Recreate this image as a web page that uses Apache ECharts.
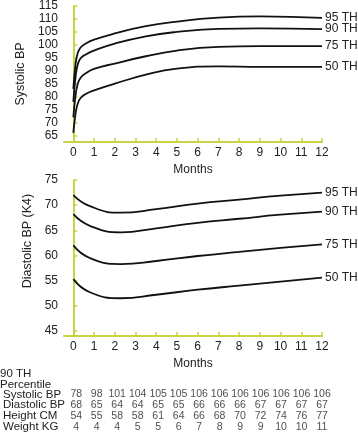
<!DOCTYPE html>
<html><head><meta charset="utf-8">
<script src="https://cdn.jsdelivr.net/npm/echarts@6/dist/echarts.min.js"></script>
<style>html,body{margin:0;padding:0;background:#fff}#c{width:358px;height:433px}</style>
</head><body><div id="c"></div>
<script>
var FONT = '"Liberation Sans", Arial, sans-serif';
var AXIS = '#c9d343';
var TXT = '#222';

var monthTicks = [0,1,2,3,4,5,6,7,8,9,10,11,12];

// Systolic curves
var sysMonths = [0, 0.1, 0.2, 0.35, 0.6, 1, 2, 3.5, 5, 7, 9, 12];
var sys95 = [83, 92, 96.5, 99, 100.5, 102, 104.4, 107.2, 109, 110.5, 111, 110.4];
var sys90 = [78, 87, 92, 94.8, 96.3, 97.8, 100.5, 103.3, 105, 106.2, 106.4, 106.1];
var sys75 = [72, 80, 84.5, 87.3, 89, 90.7, 92.8, 95.6, 97.8, 99.2, 99.5, 99.5];
var sys50 = [66, 73, 77, 79.5, 81, 82.4, 85, 88.5, 90.8, 91.7, 91.5, 91.5];
var sysTicks = [65,70,75,80,85,90,95,100,105,110,115];

// Diastolic curves
var diaMonths = [0, 0.8, 2.3, 4, 6, 8, 10, 12];
var dia95 = [72, 69.8, 68.5, 69.2, 70.3, 71.1, 71.9, 72.5];
var dia90 = [68.2, 65.9, 64.6, 65.4, 66.5, 67.3, 68.1, 68.7];
var dia75 = [62, 59.5, 58.3, 58.9, 59.9, 60.7, 61.5, 62.2];
var dia50 = [55.3, 52.7, 51.5, 52.2, 53.2, 54, 54.8, 55.6];
var diaTicks = [45,50,55,60,65,70,75];

var seriesNames = ['95 TH', '90 TH', '75 TH', '50 TH'];

// Table (90th percentile)
var tableRows = ['Systolic BP', 'Diastolic BP', 'Height CM', 'Weight KG'];
var tblSystolic = [78, 98, 101, 104, 105, 105, 106, 106, 106, 106, 106, 106, 106];
var tblDiastolic = [68, 65, 64, 64, 65, 65, 66, 66, 66, 67, 67, 67, 67];
var tblHeight = [54, 55, 58, 58, 61, 64, 66, 68, 70, 72, 74, 76, 77];
var tblWeight = [4, 4, 4, 5, 5, 6, 7, 8, 9, 9, 10, 10, 11];

function pairs(xs, ys){ return xs.map(function(x,i){ return [x, ys[i]]; }); }

function lineSeries(name, xs, ys, idx){
  return {
    type: 'line', name: name, xAxisIndex: idx, yAxisIndex: idx,
    data: pairs(xs, ys), showSymbol: false, smooth: 0.5,
    lineStyle: { color: '#111', width: 1.8 },
    endLabel: { show: true, formatter: name, color: TXT, fontSize: 12, fontFamily: FONT, distance: 3 },
    silent: true, animation: false
  };
}

function xAxisDef(idx){
  return {
    gridIndex: idx, type: 'value', min: -0.45, max: 12,
    name: 'Months', nameLocation: 'middle', nameGap: 22,
    nameTextStyle: { color: TXT, fontSize: 12, fontFamily: FONT },
    axisLine: { show: true, lineStyle: { color: AXIS, width: 2 } },
    axisTick: { show: true, inside: true, length: 4, customValues: monthTicks, lineStyle: { color: AXIS, width: 1.5 } },
    axisLabel: { show: true, customValues: monthTicks, color: TXT, fontSize: 12, fontFamily: FONT, margin: 5 },
    splitLine: { show: false }
  };
}

var tableSeries = [];
var tblData = [tblSystolic, tblDiastolic, tblHeight, tblWeight];
tblData.forEach(function(row, r){
  tableSeries.push({
    type: 'scatter', xAxisIndex: 2, yAxisIndex: 2, symbolSize: 1,
    itemStyle: { color: 'transparent' },
    data: row.map(function(v, i){ return [monthTicks[i], tableRows[r], v]; }),
    label: { show: true, position: 'inside', formatter: function(p){ return String(p.value[2]); },
             color: TXT, fontSize: 10.5, fontFamily: FONT },
    silent: true, animation: false
  });
});

var chart = echarts.init(document.getElementById('c'), null, { renderer: 'canvas' });
chart.setOption({
  backgroundColor: '#fff',
  animation: false,
  textStyle: { fontFamily: FONT },
  title: {
    text: '90 TH\nPercentile', left: 0, top: 368, padding: 0,
    textStyle: { color: TXT, fontSize: 11.5, fontWeight: 'normal', fontFamily: FONT, lineHeight: 11.5 }
  },
  grid: [
    { left: 64, right: 36, top: 6, height: 136 },
    { left: 64, right: 36, top: 180, height: 156 },
    { left: 64, right: 36, top: 389, height: 44 }
  ],
  xAxis: [
    xAxisDef(0),
    xAxisDef(1),
    { gridIndex: 2, type: 'value', min: -0.45, max: 12, show: false }
  ],
  yAxis: [
    {
      gridIndex: 0, type: 'value', min: 62.5, max: 115,
      name: 'Systolic BP', nameLocation: 'middle', nameGap: 27,
      nameTextStyle: { color: TXT, fontSize: 12.5, fontFamily: FONT },
      axisLine: { show: true, lineStyle: { color: AXIS, width: 2 } },
      axisTick: { show: true, inside: true, length: 4, customValues: sysTicks, lineStyle: { color: AXIS, width: 1.5 } },
      axisLabel: { customValues: sysTicks, color: TXT, fontSize: 12, fontFamily: FONT, margin: 6 },
      splitLine: { show: false }
    },
    {
      gridIndex: 1, type: 'value', min: 44, max: 75,
      name: 'Diastolic BP (K4)', nameLocation: 'middle', nameGap: 27,
      nameTextStyle: { color: TXT, fontSize: 12.5, fontFamily: FONT, padding: [0, 0, 0, 34] },
      axisLine: { show: true, lineStyle: { color: AXIS, width: 2 } },
      axisTick: { show: true, inside: true, length: 4, customValues: diaTicks, lineStyle: { color: AXIS, width: 1.5 } },
      axisLabel: { customValues: diaTicks, color: TXT, fontSize: 12, fontFamily: FONT, margin: 6 },
      splitLine: { show: false }
    },
    {
      gridIndex: 2, type: 'category', data: tableRows, inverse: true,
      axisLine: { show: false }, axisTick: { show: false },
      axisLabel: { interval: 0, align: 'left', margin: 64, color: TXT, fontSize: 11.5, fontFamily: FONT }
    }
  ],
  series: [
    lineSeries(seriesNames[0], sysMonths, sys95, 0),
    lineSeries(seriesNames[1], sysMonths, sys90, 0),
    lineSeries(seriesNames[2], sysMonths, sys75, 0),
    lineSeries(seriesNames[3], sysMonths, sys50, 0),
    lineSeries(seriesNames[0], diaMonths, dia95, 1),
    lineSeries(seriesNames[1], diaMonths, dia90, 1),
    lineSeries(seriesNames[2], diaMonths, dia75, 1),
    lineSeries(seriesNames[3], diaMonths, dia50, 1)
  ].concat(tableSeries)
});
</script>
</body></html>
